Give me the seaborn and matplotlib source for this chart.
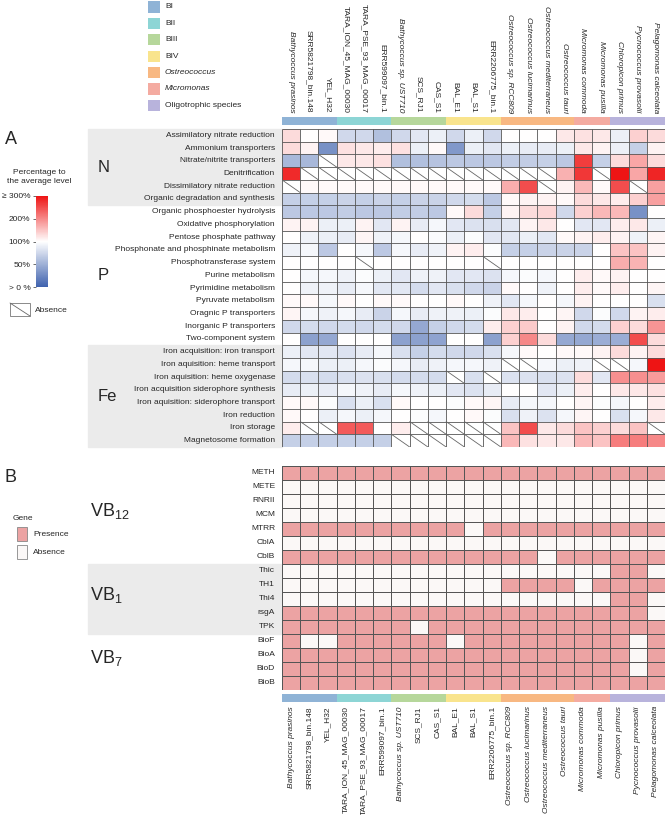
import numpy as np
import pandas as pd
import matplotlib
matplotlib.use("Agg")
from matplotlib import pyplot as plt
from matplotlib.colors import LinearSegmentedColormap, ListedColormap
from matplotlib.patches import Rectangle
from matplotlib.lines import Line2D
import matplotlib.transforms as mtrans
import seaborn as sns

# ---- data ----
species = ['Bathycoccus prasinos', 'SRR5821798_bin.148', 'YEL_H32',
           'TARA_ION_45_MAG_00030', 'TARA_PSE_93_MAG_00017', 'ERR599097_bin.1',
           'Bathycoccus sp. UST710', 'SCS_RJ1', 'CAS_S1',
           'BAL_E1', 'BAL_S1', 'ERR2206775_bin.1',
           'Ostreococcus sp. RCC809', 'Ostreococcus lucimarinus',
           'Ostreococcus mediterraneus', 'Ostreococcus tauri',
           'Micromonas commoda', 'Micromonas pusilla',
           'Chloropicon primus', 'Pycnococcus provasolii', 'Pelagomonas calceolata']
italic_species = [0, 6, 12, 13, 14, 15, 16, 17, 18, 19, 20]
group_names = ['BI', 'BII', 'BIII', 'BIV', 'Ostreococcus', 'Micromonas', 'Oligotrophic species']
group_colors = ['#8fb3d6', '#8dd5d5', '#b6d79b', '#f9e48d', '#f8b882', '#f4aba1', '#b8b3dc']
groups = ['BI'] * 3 + ['BII'] * 3 + ['BIII'] * 3 + ['BIV'] * 3 + \
         ['Ostreococcus'] * 4 + ['Micromonas'] * 2 + ['Oligotrophic species'] * 3

functions = ['Assimilatory nitrate reduction', 'Ammonium transporters',
             'Nitrate/nitrite transporters', 'Denitrification',
             'Dissimilatory nitrate reduction', 'Organic degradation and synthesis',
             'Organic phosphoester hydrolysis', 'Oxidative phosphorylation',
             'Pentose phosphate pathway', 'Phosphonate and phosphinate metabolism',
             'Phosphotransferase system', 'Purine metabolism', 'Pyrimidine metabolism',
             'Pyruvate metabolism', 'Oragnic P transporters', 'Inorganic P transporters',
             'Two-component system', 'Iron acquisition: iron transport',
             'Iron aquisition: heme transport', 'Iron aquisition: heme oxygenase',
             'Iron acquisition siderophore synthesis',
             'Iron aquisition: siderophore transport', 'Iron reduction',
             'Iron storage', 'Magnetosome formation']
function_blocks = [('N', 0, 6), ('P', 6, 17), ('Fe', 17, 25)]

nan = np.nan
# percentage to the average level, nan = absence
level_pct = [
    [130, 100, 105, 75, 75, 60, 75, 85, 90, 75, 90, 75, 100, 100, 100, 120, 125, 120, 90, 140, 130],
    [130, 110, 30, 125, 120, 115, 125, 90, 105, 35, 90, 85, 90, 88, 88, 90, 120, 110, 90, 70, 110],
    [55, 55, nan, 120, 120, 125, 60, 60, 62, 65, 65, 65, 68, 68, 70, 65, 265, 70, 130, 175, 130],
    [280, nan, nan, nan, nan, nan, nan, nan, nan, nan, nan, nan, nan, nan, nan, 167, 270, nan, 320, 175, 285],
    [nan, 105, 105, 105, 105, 105, 105, 105, 105, 105, 105, 105, 170, 250, nan, 110, 160, 105, 250, nan, 180],
    [70, 70, 70, 72, 70, 72, 70, 72, 72, 75, 78, 65, 105, 110, 110, 105, 130, 120, 115, 140, 180],
    [65, 65, 65, 68, 65, 65, 68, 68, 65, 105, 130, 70, 110, 130, 135, 75, 140, 160, 160, 30, 100],
    [110, 110, 90, 90, 110, 85, 110, 88, 95, 85, 82, 80, 85, 110, 120, 100, 85, 85, 115, 120, 90],
    [100, 92, 90, 88, 108, 92, 95, 100, 97, 90, 98, 85, 85, 90, 85, 105, 110, 115, 110, 92, 108],
    [92, 95, 65, 100, 95, 65, 95, 88, 92, 110, 115, 98, 70, 70, 72, 72, 72, 100, 150, 150, 110],
    [100, 100, 100, 100, nan, 100, 100, 100, 100, 100, 100, nan, 100, 100, 100, 100, 100, 100, 170, 165, 100],
    [100, 95, 95, 92, 98, 90, 85, 92, 92, 85, 85, 82, 95, 98, 95, 100, 115, 105, 110, 100, 100],
    [100, 92, 92, 88, 95, 85, 85, 78, 85, 80, 75, 72, 105, 100, 92, 100, 115, 105, 115, 100, 108],
    [105, 105, 95, 105, 100, 105, 105, 100, 100, 105, 100, 92, 85, 95, 100, 95, 110, 100, 100, 100, 80],
    [108, 95, 92, 95, 88, 72, 95, 88, 92, 92, 90, 98, 120, 115, 100, 108, 75, 98, 75, 110, 115],
    [75, 78, 75, 78, 75, 78, 75, 45, 70, 75, 78, 115, 140, 145, 100, 110, 75, 78, 140, 130, 190],
    [100, 40, 45, 100, 100, 100, 40, 40, 42, 100, 100, 40, 140, 200, 130, 45, 45, 48, 48, 250, 130],
    [90, 85, 85, 82, 88, 95, 80, 70, 78, 75, 75, 80, 95, 105, 100, 105, 105, 110, 130, 110, 130],
    [95, 95, 90, 90, 95, 98, 95, 88, 92, 95, 95, 92, nan, nan, 95, 90, 92, nan, nan, 95, 320],
    [78, 80, 78, 80, 82, 80, 78, 78, 78, nan, 80, nan, 82, 82, 80, 82, 130, 85, 195, 195, 185],
    [88, 90, 88, 95, 92, 88, 95, 92, 90, 85, 82, 88, 100, 100, 85, 90, 115, 100, 120, 120, 125],
    [105, 105, 98, 80, 90, 80, 105, 100, 100, 98, 105, 108, 88, 95, 95, 100, 108, 98, 95, 100, 115],
    [105, 100, 90, 95, 90, 95, 100, 98, 95, 100, 105, 98, 80, 92, 82, 95, 108, 100, 80, 95, 120],
    [115, nan, nan, 240, 240, 100, 115, nan, nan, nan, nan, nan, 150, 250, 120, 130, 150, 140, 130, 150, nan],
    [70, 70, 70, 70, 70, 70, nan, nan, nan, nan, nan, nan, 160, 125, 120, 120, 160, 150, 210, 210, 200],
]

genes = ['METH', 'METE', 'RNRII', 'MCM', 'MTRR', 'CblA', 'CblB',
         'Thic', 'TH1', 'Thi4', 'rsgA', 'TPK', 'BioF', 'BioA', 'BioD', 'BioB']
gene_blocks = [('VB$_{12}$', 0, 7), ('VB$_{1}$', 7, 12), ('VB$_{7}$', 12, 16)]
presence = [
    [1] * 21,
    [0] * 21,
    [0] * 21,
    [0] * 21,
    [1] * 10 + [0] + [1] * 10,
    [0] * 21,
    [1] * 14 + [0] + [1] * 6,
    [0] * 18 + [1, 1, 0],
    [0] * 12 + [1, 1, 1, 1, 0, 1, 1, 1, 1],
    [0] * 18 + [1, 1, 0],
    [1] * 20 + [0],
    [1] * 7 + [0] + [1] * 13,
    [1, 0, 0, 1, 1, 1, 1, 1, 1, 0, 1, 1, 1, 1, 1, 1, 1, 1, 1, 0, 1],
    [1] * 19 + [0, 1],
    [1] * 19 + [0, 1],
    [1] * 21,
]

# ---- style ----
sns.set_theme(style='white')
plt.rcParams['font.family'] = ['Liberation Sans', 'DejaVu Sans']
plt.rcParams['mathtext.fontset'] = 'custom'
plt.rcParams['mathtext.rm'] = 'Liberation Sans'
plt.rcParams['mathtext.it'] = 'Liberation Sans:italic'

W, H = 666, 815
fig = plt.figure(figsize=(W / 100, H / 100), dpi=100)


def box(x0, y0, x1, y1):
    # pixel box -> figure rect
    return [x0 / W, 1 - y1 / H, (x1 - x0) / W, (y1 - y0) / H]


ax_top = fig.add_axes(box(282, 117, 665, 125))
ax_a = fig.add_axes(box(282, 129, 665, 447))
ax_b = fig.add_axes(box(282, 466, 665, 690))
ax_bot = fig.add_axes(box(282, 694, 665, 702))
cax = fig.add_axes(box(36, 196, 48, 287))

grid_kw = dict(color='#555555', lw=0.6)
band_color = '#ebebeb'

# ---- group colour bars with species labels ----
codes = pd.DataFrame([[group_names.index(g) for g in groups]], columns=species)
for ax, top in [(ax_top, True), (ax_bot, False)]:
    sns.heatmap(codes, ax=ax, cmap=ListedColormap(group_colors), vmin=-0.5,
                vmax=len(group_names) - 0.5, cbar=False, yticklabels=False,
                xticklabels=species)
    ax.tick_params(axis='x', length=0, pad=3, labelsize=6,
                   top=top, labeltop=top, bottom=not top, labelbottom=not top)
    for k, tick in enumerate(ax.xaxis.get_major_ticks()):
        for lab in (tick.label1, tick.label2):
            lab.set_rotation(270 if top else 90)
            if k in italic_species:
                lab.set_fontstyle('italic')

# ---- panel A ----
pct = pd.DataFrame(level_pct, index=functions, columns=species)
scaled = pct.apply(lambda c: np.where(c.isna(), np.nan,
                                      np.interp(c.fillna(0), [0, 50, 100, 200, 300],
                                                [0, 0.25, 0.5, 0.75, 1])))
scaled.index = functions
cmap = LinearSegmentedColormap.from_list('lvl', ['#3f62ae', '#ffffff', '#ee1414'])
sns.heatmap(scaled, ax=ax_a, cmap=cmap, vmin=0, vmax=1, linewidths=0,
            xticklabels=False, yticklabels=functions, cbar_ax=cax,
            cbar_kws={'ticks': [0, 0.25, 0.5, 0.75, 1]})
nr, nc = scaled.shape
ax_a.hlines(np.arange(nr + 1), 0, nc, **grid_kw)
ax_a.vlines(np.arange(nc + 1), 0, nr, **grid_kw)
for i, j in np.argwhere(pct.isna().values):
    ax_a.plot([j, j + 1], [i, i + 1], color='#666666', lw=0.6)
ax_a.tick_params(axis='y', length=0, pad=5, labelsize=6, labelrotation=0)

blend_a = mtrans.blended_transform_factory(fig.transFigure, ax_a.transData)
for name, r0, r1 in function_blocks:
    if name != 'P':
        ax_a.add_patch(Rectangle((88 / W, r0), (282 - 88) / W, r1 - r0, transform=blend_a,
                                 color=band_color, clip_on=False, zorder=0))
    ax_a.text(98 / W, (r0 + r1) / 2, name, transform=blend_a, fontsize=12,
              va='center', ha='left')

cbar = ax_a.collections[0].colorbar
cbar.set_ticklabels(['> 0 %', '50%', '100%', '200%', '\u2265 300%'])
cbar.outline.set_visible(False)
cax.yaxis.set_ticks_position('left')
cax.tick_params(length=2, width=0.5, labelsize=6, pad=2, color='#333333')

fig.text(39 / W, 1 - 177 / H, 'Percentage to\nthe average level', fontsize=6,
         ha='center', va='center', linespacing=1.3)
fig.add_artist(Rectangle((10 / W, 1 - 316 / H), 20 / W, 13 / H, transform=fig.transFigure,
                         facecolor='white', edgecolor='#777777', lw=0.6))
fig.add_artist(Line2D([10 / W, 30 / W], [1 - 303 / H, 1 - 316 / H],
                      transform=fig.transFigure, color='#666666', lw=0.6))
fig.text(35 / W, 1 - 310 / H, 'Absence', fontsize=6, va='center')

# ---- panel B ----
pres = pd.DataFrame(presence, index=genes, columns=species)
sns.heatmap(pres, ax=ax_b, cmap=ListedColormap(['#fbf8f7', '#eca3a3']), vmin=0, vmax=1,
            linewidths=0.6, linecolor='#555555', cbar=False,
            xticklabels=False, yticklabels=genes)
ax_b.tick_params(axis='y', length=0, pad=5, labelsize=6, labelrotation=0)
blend_b = mtrans.blended_transform_factory(fig.transFigure, ax_b.transData)
for name, r0, r1 in gene_blocks:
    if name == 'VB$_{1}$':
        ax_b.add_patch(Rectangle((88 / W, r0), (282 - 88) / W, r1 - r0, transform=blend_b,
                                 color=band_color, clip_on=False, zorder=0))
    ax_b.text(90 / W, (r0 + r1) / 2 - 0.3, name, transform=blend_b, fontsize=13,
              va='center', ha='left')

fig.text(13 / W, 1 - 518 / H, 'Gene', fontsize=6, va='center')
for k, (lab, col) in enumerate([('Presence', '#eca3a3'), ('Absence', '#fbf8f7')]):
    y0 = 527 + 18 * k
    fig.add_artist(Rectangle((17 / W, 1 - (y0 + 14) / H), 10 / W, 14 / H,
                             transform=fig.transFigure, facecolor=col,
                             edgecolor='#888888', lw=0.6))
    fig.text(33 / W, 1 - (y0 + 7) / H, lab, fontsize=6, va='center')

# ---- group legend ----
for k, (name, col) in enumerate(zip(group_names, group_colors)):
    yc = 7 + 16.4 * k
    fig.add_artist(Rectangle((148 / W, 1 - (yc + 5.5) / H), 12 / W, 11 / H,
                             transform=fig.transFigure, facecolor=col, edgecolor='none'))
    fig.text(165 / W, 1 - yc / H, name, fontsize=6, va='center',
             style='italic' if name in ('Ostreococcus', 'Micromonas') else 'normal')

# panel letters
fig.text(5 / W, 1 - 140 / H, 'A', fontsize=13, va='center')
fig.text(5 / W, 1 - 478 / H, 'B', fontsize=13, va='center')

fig.savefig('out.png', dpi=100)
